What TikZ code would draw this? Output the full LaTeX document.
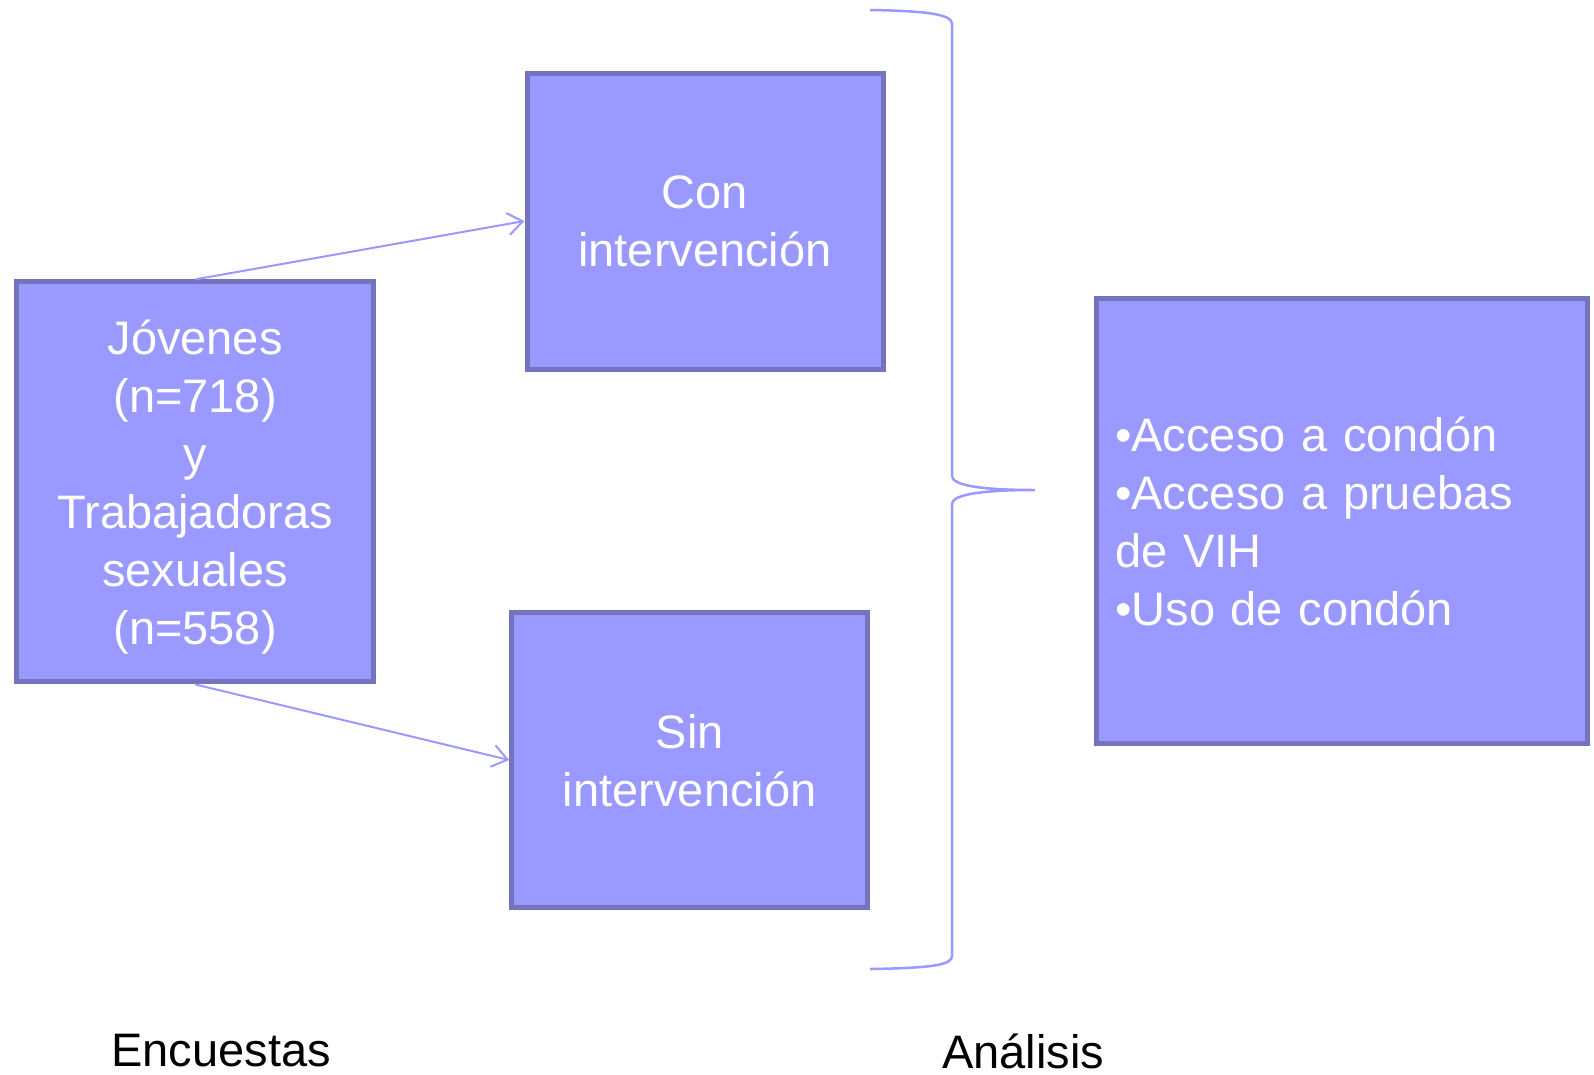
\documentclass[tikz,border=0pt]{standalone}
\usepackage{fontspec}
\setmainfont{Liberation Sans}
\usetikzlibrary{arrows.meta}
\definecolor{boxfill}{HTML}{9999FF}
\definecolor{boxline}{HTML}{7373BE}
\definecolor{linkcol}{HTML}{9999FF}
\tikzset{
  box/.style={draw=boxline, fill=boxfill, line width=5pt, text=white, align=center,
    font=\fontsize{47}{58}\selectfont, inner sep=0pt},
  link/.style={draw=linkcol, line width=2pt, -{Straight Barb[length=15pt,width=22pt,line width=2pt]}},
  stagetext/.style={font=\fontsize{47}{58}\selectfont, anchor=base}
}

\begin{document}
\begin{tikzpicture}[x=1pt,y=-1pt]
		%%%%% START %%%%%
		\useasboundingbox (0,0) rectangle (1594,1074);
		
		\node[box, text depth=0pt, minimum width=357pt, minimum height=400pt] (grupos) at (195.1,481.9)
			{Jóvenes\\(n=718)\\y\\Trabajadoras\\sexuales\\(n=558)};
		\node[box, text depth=0pt, minimum width=356pt, minimum height=296pt] (con) at (705,221)
			{Con\\intervención};
		\node[box, text depth=0pt, minimum width=356pt, minimum height=295pt] (sin) at (689.7,760)
			{Sin\\intervención};
		\node[box, minimum height=444.4pt, text width=453.8pt, inner xsep=18.6pt, align=left] (medidas) at (1342,521)
			{•Acceso a condón\\•Acceso a pruebas\\de VIH\\•Uso de condón};
		
		\draw[link] (grupos.north) -- (con.west);
		\draw[link] (grupos.south) -- (sin.west);
		
		% llave
		\draw[linkcol, line width=2.5pt] (870,10) .. controls (932,11) and (952,15) .. (952,24)
			-- (952,476) .. controls (952,486) and (985,490) .. (1035,490)
			.. controls (985,490) and (952,494) .. (952,504)
			-- (952,956) .. controls (952,965) and (932,968) .. (870,969);
		
		\node[stagetext] (encuestas) at (221,1066) {Encuestas};
		\node[stagetext] (analisis) at (1023,1068) {Análisis};
		%%%%% END %%%%%
\end{tikzpicture}
\end{document}
